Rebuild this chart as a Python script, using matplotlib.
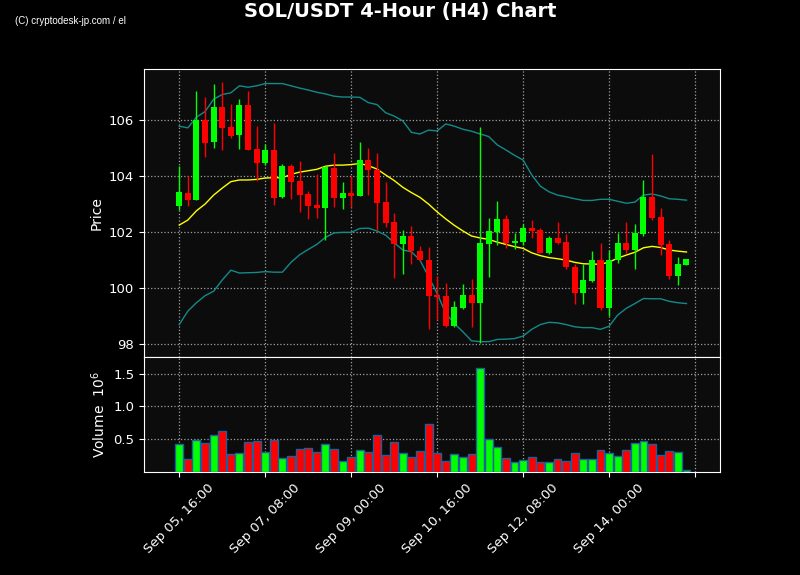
import matplotlib
matplotlib.use('Agg')
import matplotlib.pyplot as plt
import numpy as np
import pandas as pd

# ---- data ----
times = pd.date_range('2024-09-05 16:00', periods=60, freq='4h')

opens = [102.95, 103.40, 103.17, 106.00, 105.24, 106.48, 105.76, 105.49, 106.55, 104.98,
         104.49, 104.94, 103.27, 104.37, 103.83, 103.37, 102.98, 102.88, 104.30, 103.24,
         103.40, 103.31, 104.58, 104.24, 103.08, 102.37, 101.57, 101.87, 101.33, 101.01,
         99.76, 99.73, 98.67, 99.31, 99.76, 99.49, 101.60, 102.01, 102.48, 101.62,
         101.65, 102.15, 102.07, 101.27, 101.79, 101.65, 100.75, 99.85, 100.27, 101.01,
         99.31, 101.00, 101.62, 101.38, 101.95, 103.26, 102.55, 101.58, 100.45, 100.85]
highs = [104.37, 104.00, 107.06, 106.82, 107.29, 107.36, 106.57, 106.75, 107.06, 105.81,
         105.15, 105.92, 104.43, 104.43, 104.54, 103.49, 104.10, 104.38, 104.82, 103.81,
         104.02, 105.21, 105.02, 104.82, 103.81, 102.68, 102.08, 102.23, 101.52, 101.49,
         100.45, 100.18, 99.54, 100.14, 100.32, 105.77, 102.50, 103.11, 102.62, 101.96,
         102.30, 102.43, 102.17, 101.88, 102.36, 101.93, 100.87, 100.87, 101.35, 101.63,
         101.37, 101.99, 102.36, 102.29, 103.86, 104.81, 102.86, 101.71, 101.11, 101.05]
lows = [102.80, 102.95, 103.17, 104.68, 105.00, 104.94, 105.36, 104.96, 104.95, 103.83,
        104.42, 102.98, 103.21, 103.18, 102.74, 102.46, 102.50, 101.73, 102.89, 102.82,
        102.92, 103.31, 103.33, 102.08, 102.20, 100.36, 100.50, 100.87, 100.98, 98.55,
        98.87, 98.61, 98.61, 99.25, 98.61, 98.06, 100.39, 101.54, 101.45, 101.42,
        101.54, 101.79, 101.25, 101.23, 101.58, 100.68, 99.43, 99.43, 100.24, 99.23,
        99.01, 100.90, 101.26, 100.68, 101.86, 102.43, 101.21, 100.35, 100.11, 100.83]
closes = [103.44, 103.17, 106.00, 105.20, 106.48, 105.74, 105.45, 106.55, 104.95, 104.49,
          104.94, 103.24, 104.37, 103.81, 103.33, 102.95, 102.88, 104.35, 103.24, 103.40,
          103.31, 104.58, 104.24, 103.06, 102.35, 101.57, 101.87, 101.32, 101.02, 99.74,
          99.70, 98.67, 99.32, 99.76, 99.49, 101.62, 102.05, 102.48, 101.62, 101.69,
          102.15, 102.06, 101.27, 101.79, 101.63, 100.75, 99.85, 100.30, 101.01, 99.31,
          101.01, 101.62, 101.38, 101.98, 103.26, 102.52, 101.55, 100.45, 100.87, 101.05]
volumes = [0.424, 0.202, 0.485, 0.444, 0.561, 0.621, 0.273, 0.288, 0.455, 0.470,
           0.303, 0.485, 0.212, 0.242, 0.354, 0.364, 0.308, 0.424, 0.354, 0.167,
           0.232, 0.338, 0.308, 0.561, 0.258, 0.455, 0.288, 0.232, 0.323, 0.727,
           0.288, 0.167, 0.273, 0.227, 0.273, 1.591, 0.500, 0.379, 0.212, 0.152,
           0.182, 0.227, 0.152, 0.152, 0.197, 0.167, 0.288, 0.197, 0.197, 0.333,
           0.288, 0.242, 0.333, 0.439, 0.470, 0.424, 0.258, 0.318, 0.303, 0.030]
bb_mid = [102.26, 102.44, 102.77, 103.01, 103.33, 103.58, 103.81, 103.87, 103.87, 103.89,
          103.94, 103.95, 103.95, 104.07, 104.15, 104.20, 104.25, 104.36, 104.40, 104.40,
          104.42, 104.46, 104.38, 104.26, 104.05, 103.85, 103.61, 103.42, 103.25, 103.01,
          102.73, 102.48, 102.25, 102.05, 101.87, 101.80, 101.75, 101.65, 101.57, 101.49,
          101.43, 101.27, 101.17, 101.10, 101.06, 101.01, 100.93, 100.88, 100.87, 100.86,
          100.94, 101.08, 101.19, 101.29, 101.45, 101.50, 101.46, 101.37, 101.33, 101.30]
bb_upper = [105.79, 105.73, 106.11, 106.31, 106.75, 106.92, 106.98, 107.23, 107.18, 107.23,
            107.31, 107.31, 107.31, 107.23, 107.15, 107.08, 107.00, 106.94, 106.86, 106.83,
            106.83, 106.82, 106.63, 106.56, 106.27, 106.15, 105.98, 105.57, 105.51, 105.65,
            105.62, 105.87, 105.79, 105.68, 105.61, 105.51, 105.42, 105.12, 104.94, 104.75,
            104.58, 104.05, 103.65, 103.45, 103.33, 103.27, 103.20, 103.14, 103.14, 103.18,
            103.18, 103.11, 103.04, 103.08, 103.33, 103.37, 103.30, 103.20, 103.18, 103.15]
bb_lower = [98.71, 99.19, 99.49, 99.74, 99.90, 100.30, 100.65, 100.55, 100.56, 100.57,
            100.60, 100.58, 100.58, 100.93, 101.20, 101.39, 101.57, 101.82, 101.98, 102.00,
            102.00, 102.14, 102.15, 102.05, 101.90, 101.63, 101.37, 101.31, 101.01, 100.42,
            99.82, 99.11, 98.75, 98.45, 98.13, 98.10, 98.10, 98.18, 98.19, 98.21,
            98.30, 98.54, 98.71, 98.79, 98.77, 98.71, 98.63, 98.60, 98.60, 98.54,
            98.65, 99.05, 99.29, 99.46, 99.64, 99.63, 99.63, 99.54, 99.49, 99.46]

tick_pos = [0, 10, 20, 30, 40, 50, 60]
tick_labels = ['Sep 05, 16:00', 'Sep 07, 08:00', 'Sep 09, 00:00', 'Sep 10, 16:00',
               'Sep 12, 08:00', 'Sep 14, 00:00', '']

# ---- figure ----
UP, DOWN = '#00ff00', '#ff0000'
FACE = '#0c0c0c'
x = np.arange(len(times))
o, h, l, c = map(np.asarray, (opens, highs, lows, closes))
colors = [UP if cc >= oo else DOWN for oo, cc in zip(o, c)]

fig = plt.figure(figsize=(8, 5.75), dpi=100, facecolor='black')
ax = fig.add_axes([0.18, 0.379, 0.72, 0.501])
axv = fig.add_axes([0.18, 0.179, 0.72, 0.200], sharex=ax)

for a in (ax, axv):
    a.set_facecolor(FACE)
    for s in a.spines.values():
        s.set_color('white')
    a.tick_params(colors='white', labelsize=9.5)
    a.grid(True, color='#a0a0a0', linestyle=':', linewidth=0.9)
    a.set_axisbelow(True)

# candles
ax.vlines(x, l, h, colors=colors, linewidth=1.0, zorder=3)
body_bottom = np.minimum(o, c)
body_h = np.maximum(np.abs(c - o), 0.04)
ax.bar(x, body_h, bottom=body_bottom, width=0.7, color=colors, linewidth=0, zorder=4)

# bollinger
ax.plot(x, bb_upper, color='#138a8a', linewidth=1.0, zorder=2)
ax.plot(x, bb_lower, color='#138a8a', linewidth=1.0, zorder=2)
ax.plot(x, bb_mid, color='#ffff00', linewidth=1.0, zorder=2)

ax.set_xlim(-4.1, 62.9)
ax.set_ylim(97.55, 107.83)
ax.set_yticks([98, 100, 102, 104, 106])
ax.set_ylabel('Price', color='white', fontsize=10)
plt.setp(ax.get_xticklabels(), visible=False)

# volume
axv.bar(x, volumes, width=0.92, color=colors, edgecolor='#1f5f9a', linewidth=1.0, zorder=3)
axv.set_ylim(0.0, 1.75)
axv.set_yticks([0.5, 1.0, 1.5])
axv.set_ylabel(r'Volume  $10^{6}$', color='white', fontsize=10)
axv.set_xticks(tick_pos)
axv.set_xticklabels(tick_labels, rotation=45, ha='center', color='white', fontsize=9.5)

fig.suptitle('SOL/USDT 4-Hour (H4) Chart', color='white', fontsize=14,
             fontweight='bold', x=0.5, y=0.997)
fig.text(0.019, 0.958, '(C) cryptodesk-jp.com / el', color='white', fontsize=7,
         family=['Liberation Sans Narrow', 'Liberation Sans', 'DejaVu Sans'])

fig.savefig('out.png', dpi=100, facecolor='black')
